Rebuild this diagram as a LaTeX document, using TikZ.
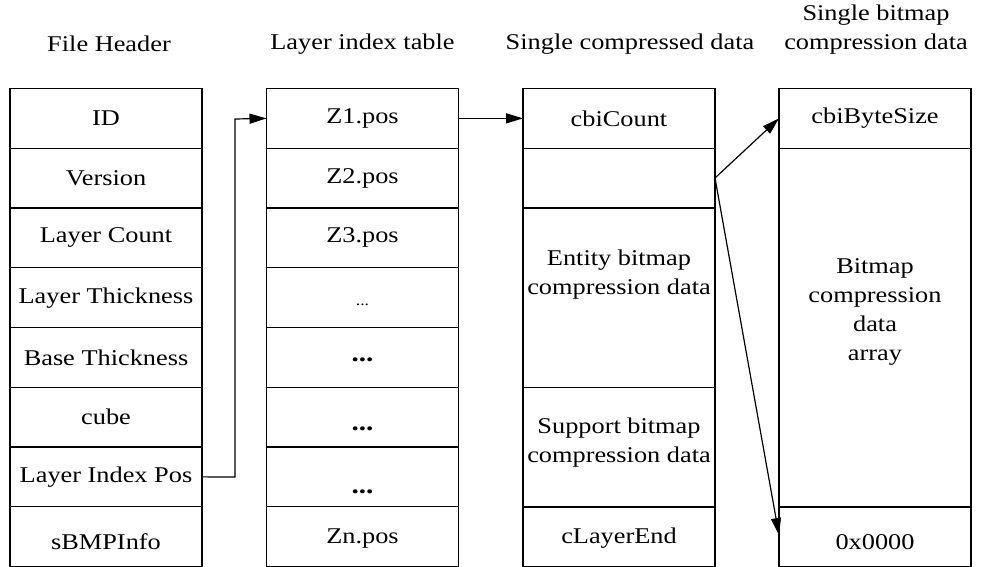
\documentclass[tikz,border=0pt]{standalone}
\usepackage{fontspec}
\setmainfont{Liberation Serif}
\usetikzlibrary{arrows.meta}
\newcommand{\wid}[1]{\scalebox{1.17}[1]{#1}}
\begin{document}
\begin{tikzpicture}[x=1pt,y=-1pt,
  cell/.style={draw,line width=1.2pt,rectangle,minimum width=192pt,inner sep=0pt,outer sep=0pt,font=\fontsize{22.5}{28}\selectfont},
  txt/.style={inner sep=0pt,align=center,font=\fontsize{22.5}{29}\selectfont},
  conn/.style={line width=1.2pt,-{Triangle[length=17pt,width=10pt]}}]
\useasboundingbox (0,0) rectangle (996,567);
\def\h{59.75}
% titles
\node[txt] (t1) at (109,44) {\wid{File Header}};
\node[txt] (t2) at (362.5,44) {\wid{Layer index table}};
\node[txt] (t3) at (630,44) {\wid{Single compressed data}};
\node[txt] (t4) at (876,30) {\wid{Single bitmap}\\\wid{compression data}};
% column 1
\foreach \i/\t in {1/ID,2/Version,3/Layer Count,4/Layer Thickness,5/Base Thickness,6/cube,7/Layer Index Pos}{
  \node[cell,minimum height=\h] (a\i) at (106,{88.5+\h*(\i-0.5)}) {\wid{\t}};
}
\node[cell,minimum height=\h] (a8) at (106,{88.5+\h*7.5}) {};
\node[txt] (a8t) at (106,542) {\wid{sBMPInfo}};
% column 2
\foreach \i/\t in {1/Z1.pos,2/Z2.pos,3/Z3.pos}{
  \node[cell,minimum height=\h] (b\i) at (362.5,{88.5+\h*(\i-0.5)}) {\wid{\t}};
}
\foreach \i in {4,5,6,7,8}{
  \node[cell,minimum height=\h] (b\i) at (362.5,{88.5+\h*(\i-0.5)}) {};
}
\node[txt,font=\fontsize{15}{18}\selectfont] (b4t) at (362.5,305) {\wid{...}};
\node[txt,font=\fontsize{25}{28}\selectfont\bfseries] (b5t) at (362.5,360) {\wid{...}};
\node[txt,font=\fontsize{25}{28}\selectfont\bfseries] (b6t) at (362.5,428.5) {\wid{...}};
\node[txt,font=\fontsize{25}{28}\selectfont\bfseries] (b7t) at (362.5,492) {\wid{...}};
\node[txt] (b8t) at (362.5,539) {\wid{Zn.pos}};
% column 3
\node[cell,minimum height=\h] (c1) at (619,{88.5+\h*0.5}) {\wid{cbiCount}};
\node[cell,minimum height=\h] (c2) at (619,{88.5+\h*1.5}) {};
\node[cell,minimum height=180] (c3) at (619,297.7) {};
\node[txt] (c3t) at (619,275) {\wid{Entity bitmap}\\\wid{compression data}};
\node[cell,minimum height=119.6] (c4) at (619,447.5) {};
\node[txt] (c4t) at (619,443) {\wid{Support bitmap}\\\wid{compression data}};
\node[cell,minimum height=\h] (c5) at (619,{88.5+\h*7.5}) {};
\node[txt] (c5t) at (619,538) {\wid{cLayerEnd}};
% column 4
\node[cell,minimum height=\h] (d1) at (875,{88.5+\h*0.5}) {\wid{cbiByteSize}};
\node[cell,minimum height=359] (d2) at (875,327.8) {};
\node[txt] (d2t) at (875,312) {\wid{Bitmap}\\\wid{compression}\\\wid{data}\\\wid{array}};
\node[cell,minimum height=\h] (d3) at (875,{88.5+\h*7.5}) {};
\node[txt] (d3t) at (875,542) {\wid{0x0000}};
% connectors
\coordinate (k1) at (235,477);
\coordinate (k2) at (235,119);
\coordinate (s) at (715,178);
\coordinate (e) at (779,535);
\draw[conn] (a7.east) -- (k1) -- (k2) -- (b1.west);
\draw[conn] (b1.east) -- (c1.west);
\draw[conn] (s) -- (d1.west);
\draw[conn] (s) -- (e);
\end{tikzpicture}
\end{document}
